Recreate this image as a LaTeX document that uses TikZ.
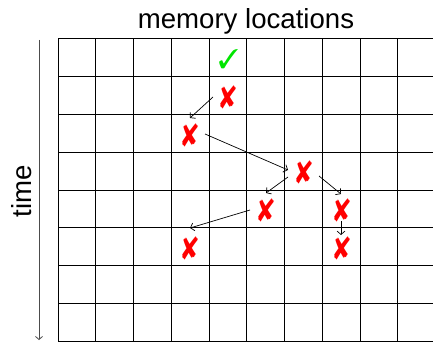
\documentclass[tikz,border=0pt]{standalone}
\usepackage{fontspec}
\setmainfont{Liberation Sans}
\usepackage{pifont}
\usepackage{graphicx}
\usetikzlibrary{calc,arrows.meta}
\newcommand{\crossmk}{\scalebox{0.92}[1.15]{\ding{56}}}
\tikzset{
  gridline/.style={line width=1pt, black},
  xmark/.style={text=red, inner sep=0pt, font=\fontsize{28}{28}\selectfont},
  okmark/.style={text=green!90!black, inner sep=0pt, font=\fontsize{27}{27}\selectfont},
  flow/.style={-{Straight Barb[length=3.5pt,width=8pt]}, line width=0.7pt},
  label/.style={font=\fontsize{27.6}{30}\selectfont, inner sep=0pt}
}
\begin{document}
\begin{tikzpicture}[x=1pt,y=-1pt]
\useasboundingbox (0,0) rectangle (433,342);
\begin{scope}
\clip (0,0) rectangle (433,342);
\foreach \k in {0,...,10} {
  \draw[gridline] ({58+37.75*\k},39) -- ({58+37.75*\k},341);
}
\foreach \k in {0,...,8} {
  \draw[gridline] (58,{39+37.75*\k}) -- (440,{39+37.75*\k});
}
\end{scope}
\node[label, anchor=base] (title) at (246,28.5) {memory locations};
\node[label, anchor=base, rotate=90] (tlabel) at (31.5,191) {time};
\coordinate (ts) at (39,40);
\coordinate (te) at (39,340);
\draw[-{Straight Barb[length=3pt,width=7pt]}, line width=0.8pt, black!70] (ts) -- (te);

\node[okmark] (ok) at (228.5,59) {\ding{51}};
\node[xmark] (x1) at (228,97) {\crossmk};
\node[xmark] (x2) at (190,135) {\crossmk};
\node[xmark] (x3) at (304,172) {\crossmk};
\node[xmark] (x4) at (266,210) {\crossmk};
\node[xmark] (x5) at (342,210) {\crossmk};
\node[xmark] (x6) at (190,248) {\crossmk};
\node[xmark] (x7) at (342,248) {\crossmk};

\draw[flow] ($(x1)+(-15,0)$) -- ($(x2)+(0,-17)$);
\draw[flow] ($(x2)+(15,-1)$) -- ($(x3)+(-16,-2)$);
\draw[flow] ($(x3)+(-16,5)$) -- ($(x4)+(0,-17)$);
\draw[flow] ($(x3)+(15,4)$) -- ($(x5)+(-1,-16)$);
\draw[flow] ($(x4)+(-16,0)$) -- ($(x6)+(0,-20)$);
\draw[flow] ($(x5)+(-1,11)$) -- ($(x7)+(-1,-13)$);
\end{tikzpicture}
\end{document}
